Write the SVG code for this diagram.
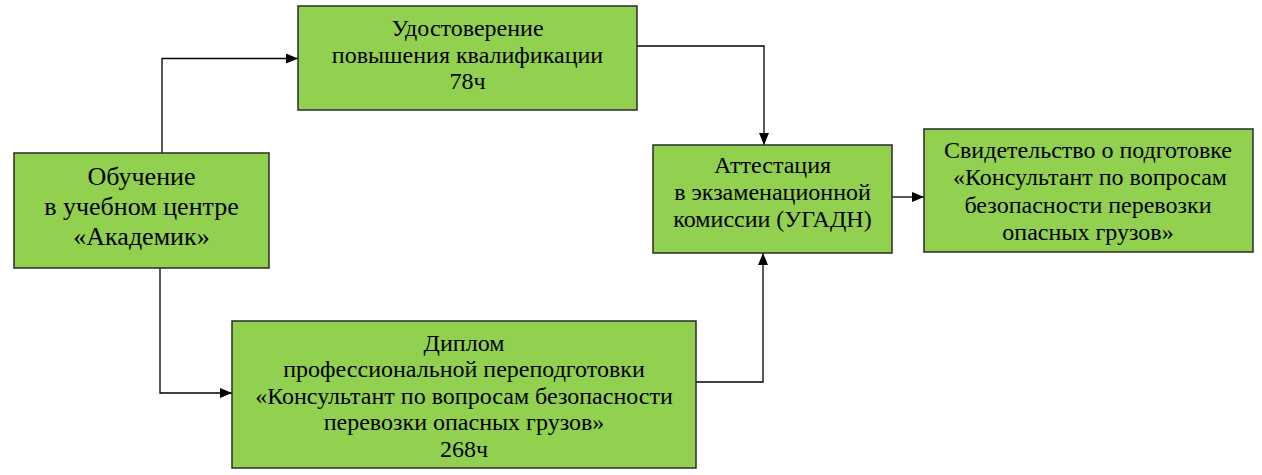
<svg xmlns="http://www.w3.org/2000/svg" width="1262" height="475" viewBox="0 0 1262 475">
<style>
.box{fill:#92D050;stroke:#2b2b2b;stroke-width:1.5}
.t{font-family:"Liberation Serif","Times New Roman",serif;font-size:24px;fill:#000;text-anchor:middle}
.t1{font-size:26px}
.c{fill:none;stroke:#000;stroke-width:1.3}
</style>
<defs>
<marker id="ah" markerWidth="12" markerHeight="10" refX="12" refY="5" orient="auto" markerUnits="userSpaceOnUse">
<path d="M0,0 L12,5 L0,10 Z" fill="#000"/>
</marker>
</defs>
<rect width="1262" height="475" fill="#fff"/>
<g id="connectors">
<path class="c" d="M162,153 V58.5 H298" marker-end="url(#ah)"/>
<path class="c" d="M637,46 H764 V145" marker-end="url(#ah)"/>
<path class="c" d="M892,197 H924" marker-end="url(#ah)"/>
<path class="c" d="M160,268 V393 H232" marker-end="url(#ah)"/>
<path class="c" d="M696,382 H763 V253" marker-end="url(#ah)"/>
</g>
<g id="n1">
<rect class="box" x="14" y="153" width="255" height="115"/>
<text class="t t1" x="141.5" y="185">Обучение</text>
<text class="t t1" x="141.5" y="215">в учебном центре</text>
<text class="t t1" x="141.5" y="245">«Академик»</text>
</g>
<g id="n2">
<rect class="box" x="298" y="6" width="339" height="104"/>
<text class="t" x="467.5" y="36">Удостоверение</text>
<text class="t" x="467.5" y="62.5">повышения квалификации</text>
<text class="t" x="467.5" y="89">78ч</text>
</g>
<g id="n3">
<rect class="box" x="653" y="145" width="239" height="108"/>
<text class="t" x="772.5" y="173">Аттестация</text>
<text class="t" x="772.5" y="200">в экзаменационной</text>
<text class="t" x="772.5" y="227">комиссии (УГАДН)</text>
</g>
<g id="n4">
<rect class="box" x="924" y="129" width="329" height="123"/>
<text class="t" x="1088" y="158">Свидетельство о подготовке</text>
<text class="t" x="1090" y="185">«Консультант по вопросам</text>
<text class="t" x="1088" y="213">безопасности перевозки</text>
<text class="t" x="1088" y="240">опасных грузов»</text>
</g>
<g id="n5">
<rect class="box" x="232" y="321" width="464" height="147"/>
<text class="t" x="464" y="351">Диплом</text>
<text class="t" x="464" y="377">профессиональной переподготовки</text>
<text class="t" x="464" y="403.5" font-size="24.4">«Консультант по вопросам безопасности</text>
<text class="t" x="464" y="430">перевозки опасных грузов»</text>
<text class="t" x="464" y="457">268ч</text>
</g>
</svg>
